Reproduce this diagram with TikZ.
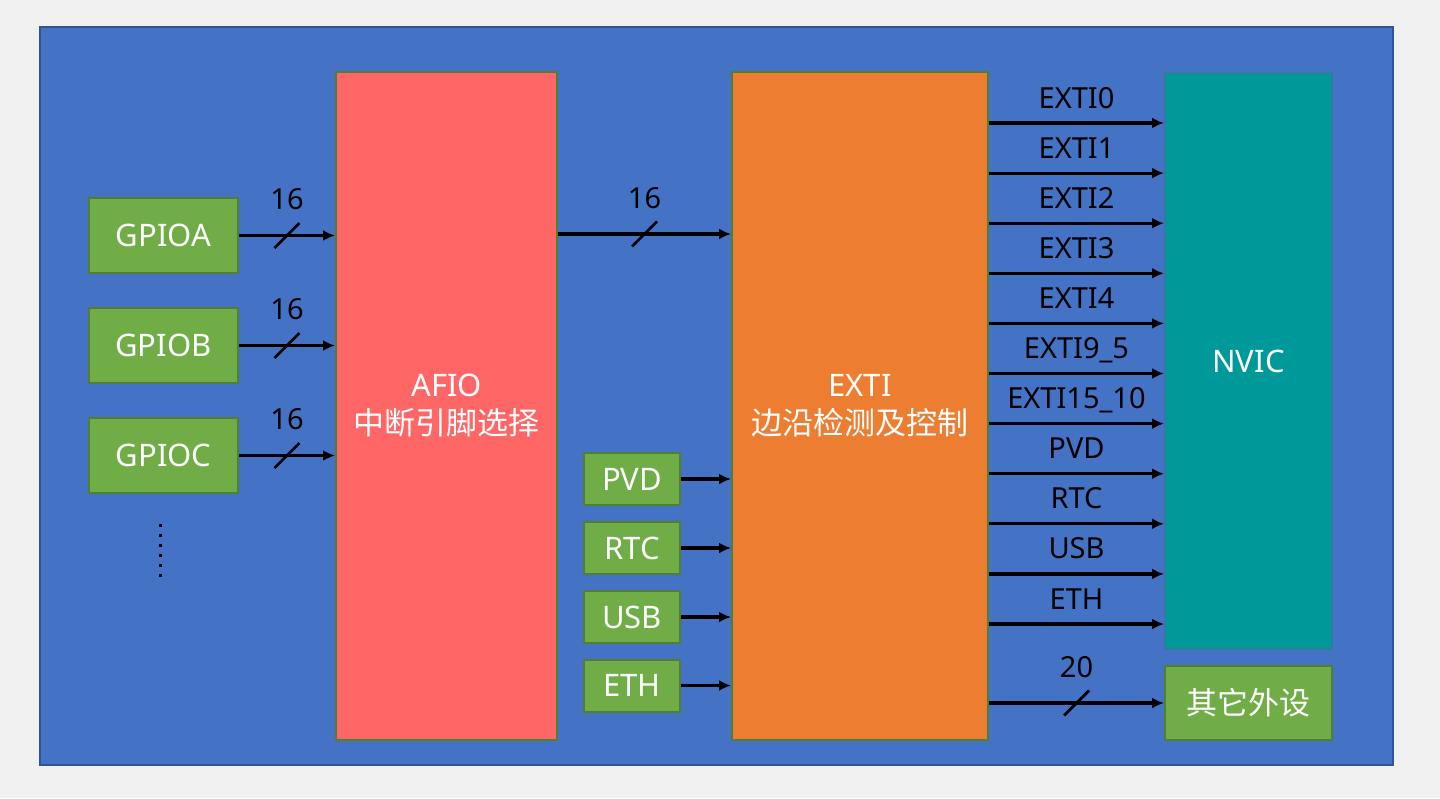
\documentclass[tikz,border=0pt]{standalone}
\usepackage{fontspec}
\setmainfont{Noto Sans}
\newfontfamily\cjk{Noto Sans CJK SC}
\usepackage{xcolor}
\usepackage{tikz}
\usetikzlibrary{arrows.meta,decorations.markings}

\definecolor{pagegrey}{HTML}{F0F0F0}
\definecolor{boardblue}{HTML}{4472C4}
\definecolor{frameblue}{HTML}{2F5597}
\definecolor{afiored}{HTML}{FF6666}
\definecolor{extiorange}{HTML}{ED7D31}
\definecolor{nvicteal}{HTML}{009999}
\definecolor{nvicedge}{HTML}{2E7DA0}
\definecolor{periphgreen}{HTML}{70AD47}
\definecolor{greenedge}{HTML}{507E32}

\begin{document}
\begin{tikzpicture}[x=0.5pt, y=-0.5pt,
	block/.style={draw=greenedge, line width=1pt, inner sep=0pt, text=white, align=center, font=\fontsize{15.5}{19}\selectfont},
	periph/.style={block, fill=periphgreen},
	sig/.style={-{Latex[length=6pt,width=5.5pt]}, line width=1.6pt},
	lab/.style={anchor=base, yshift=7.5pt, inner sep=0pt, font=\fontsize{14.5}{17}\selectfont},
	bus/.style={sig, postaction={decorate, decoration={markings, mark=at position 0.5 with {
		\draw[-, line width=1.4pt] (-6.25pt,-6.25pt) -- (6.25pt,6.25pt);
		\node[lab, yshift=5.5pt] {#1};}}}}]
	\fill[pagegrey] (0,0) rectangle (1440,798);
	\draw[line width=1pt, draw=frameblue, fill=boardblue] (39.5,26.5) rectangle (1393,765);

	% GPIO ports
	\node[periph, minimum width=74.5pt, minimum height=37.5pt] (gpioa) at (163.5,235.5) {GPIOA};
	\node[periph, minimum width=74.5pt, minimum height=37.5pt] (gpiob) at (163.5,345.5) {GPIOB};
	\node[periph, minimum width=74.5pt, minimum height=37.5pt] (gpioc) at (163.5,455.5) {GPIOC};
	\foreach \k in {0,...,5}
		\fill (158.5,{523.5+10*\k}) rectangle ++(3,3);

	% main blocks
	\node[block, fill=afiored, minimum width=110.5pt, minimum height=334pt] (afio) at (446.5,406) {AFIO\\{\cjk 中断引脚选择}};
	\node[block, fill=extiorange, minimum width=128pt, minimum height=334pt] (exti) at (860,406) {EXTI\\{\cjk 边沿检测及控制}};
	\node[block, draw=nvicedge, fill=nvicteal, minimum width=83.5pt, minimum height=288pt] (nvic) at (1248.5,361) {NVIC};
	\node[periph, minimum width=83.5pt, minimum height=37pt] (other) at (1248.5,703) {\cjk 其它外设};

	% other sources
	\node[periph, minimum width=48pt, minimum height=26pt] (pvd) at (632,479) {PVD};
	\node[periph, minimum width=48pt, minimum height=26pt] (rtc) at (632,548) {RTC};
	\node[periph, minimum width=48pt, minimum height=26pt] (usb) at (632,617) {USB};
	\node[periph, minimum width=48pt, minimum height=26pt] (eth) at (632,685.5) {ETH};

	\draw[bus=16] (gpioa) -- (gpioa -| afio.west);
	\draw[bus=16] (gpiob) -- (gpiob -| afio.west);
	\draw[bus=16] (gpioc) -- (gpioc -| afio.west);
	\draw[bus=16] (afio.east |- 0,234) -- (exti.west |- 0,234);

	\foreach \src in {pvd,rtc,usb,eth}
		\draw[sig] (\src) -- (\src -| exti.west);

	\foreach \lbl [count=\i from 0, evaluate=\i as \yy using 123+50.1*\i] in {EXTI0,EXTI1,EXTI2,EXTI3,EXTI4,EXTI9\_5,EXTI15\_10,PVD,RTC,USB,ETH}
		\draw[sig] (exti.east |- 0,\yy) -- (nvic.west |- 0,\yy) node[midway, lab] {\lbl};
	\draw[bus=20] (exti.east |- other) -- (other);
\end{tikzpicture}
\end{document}
